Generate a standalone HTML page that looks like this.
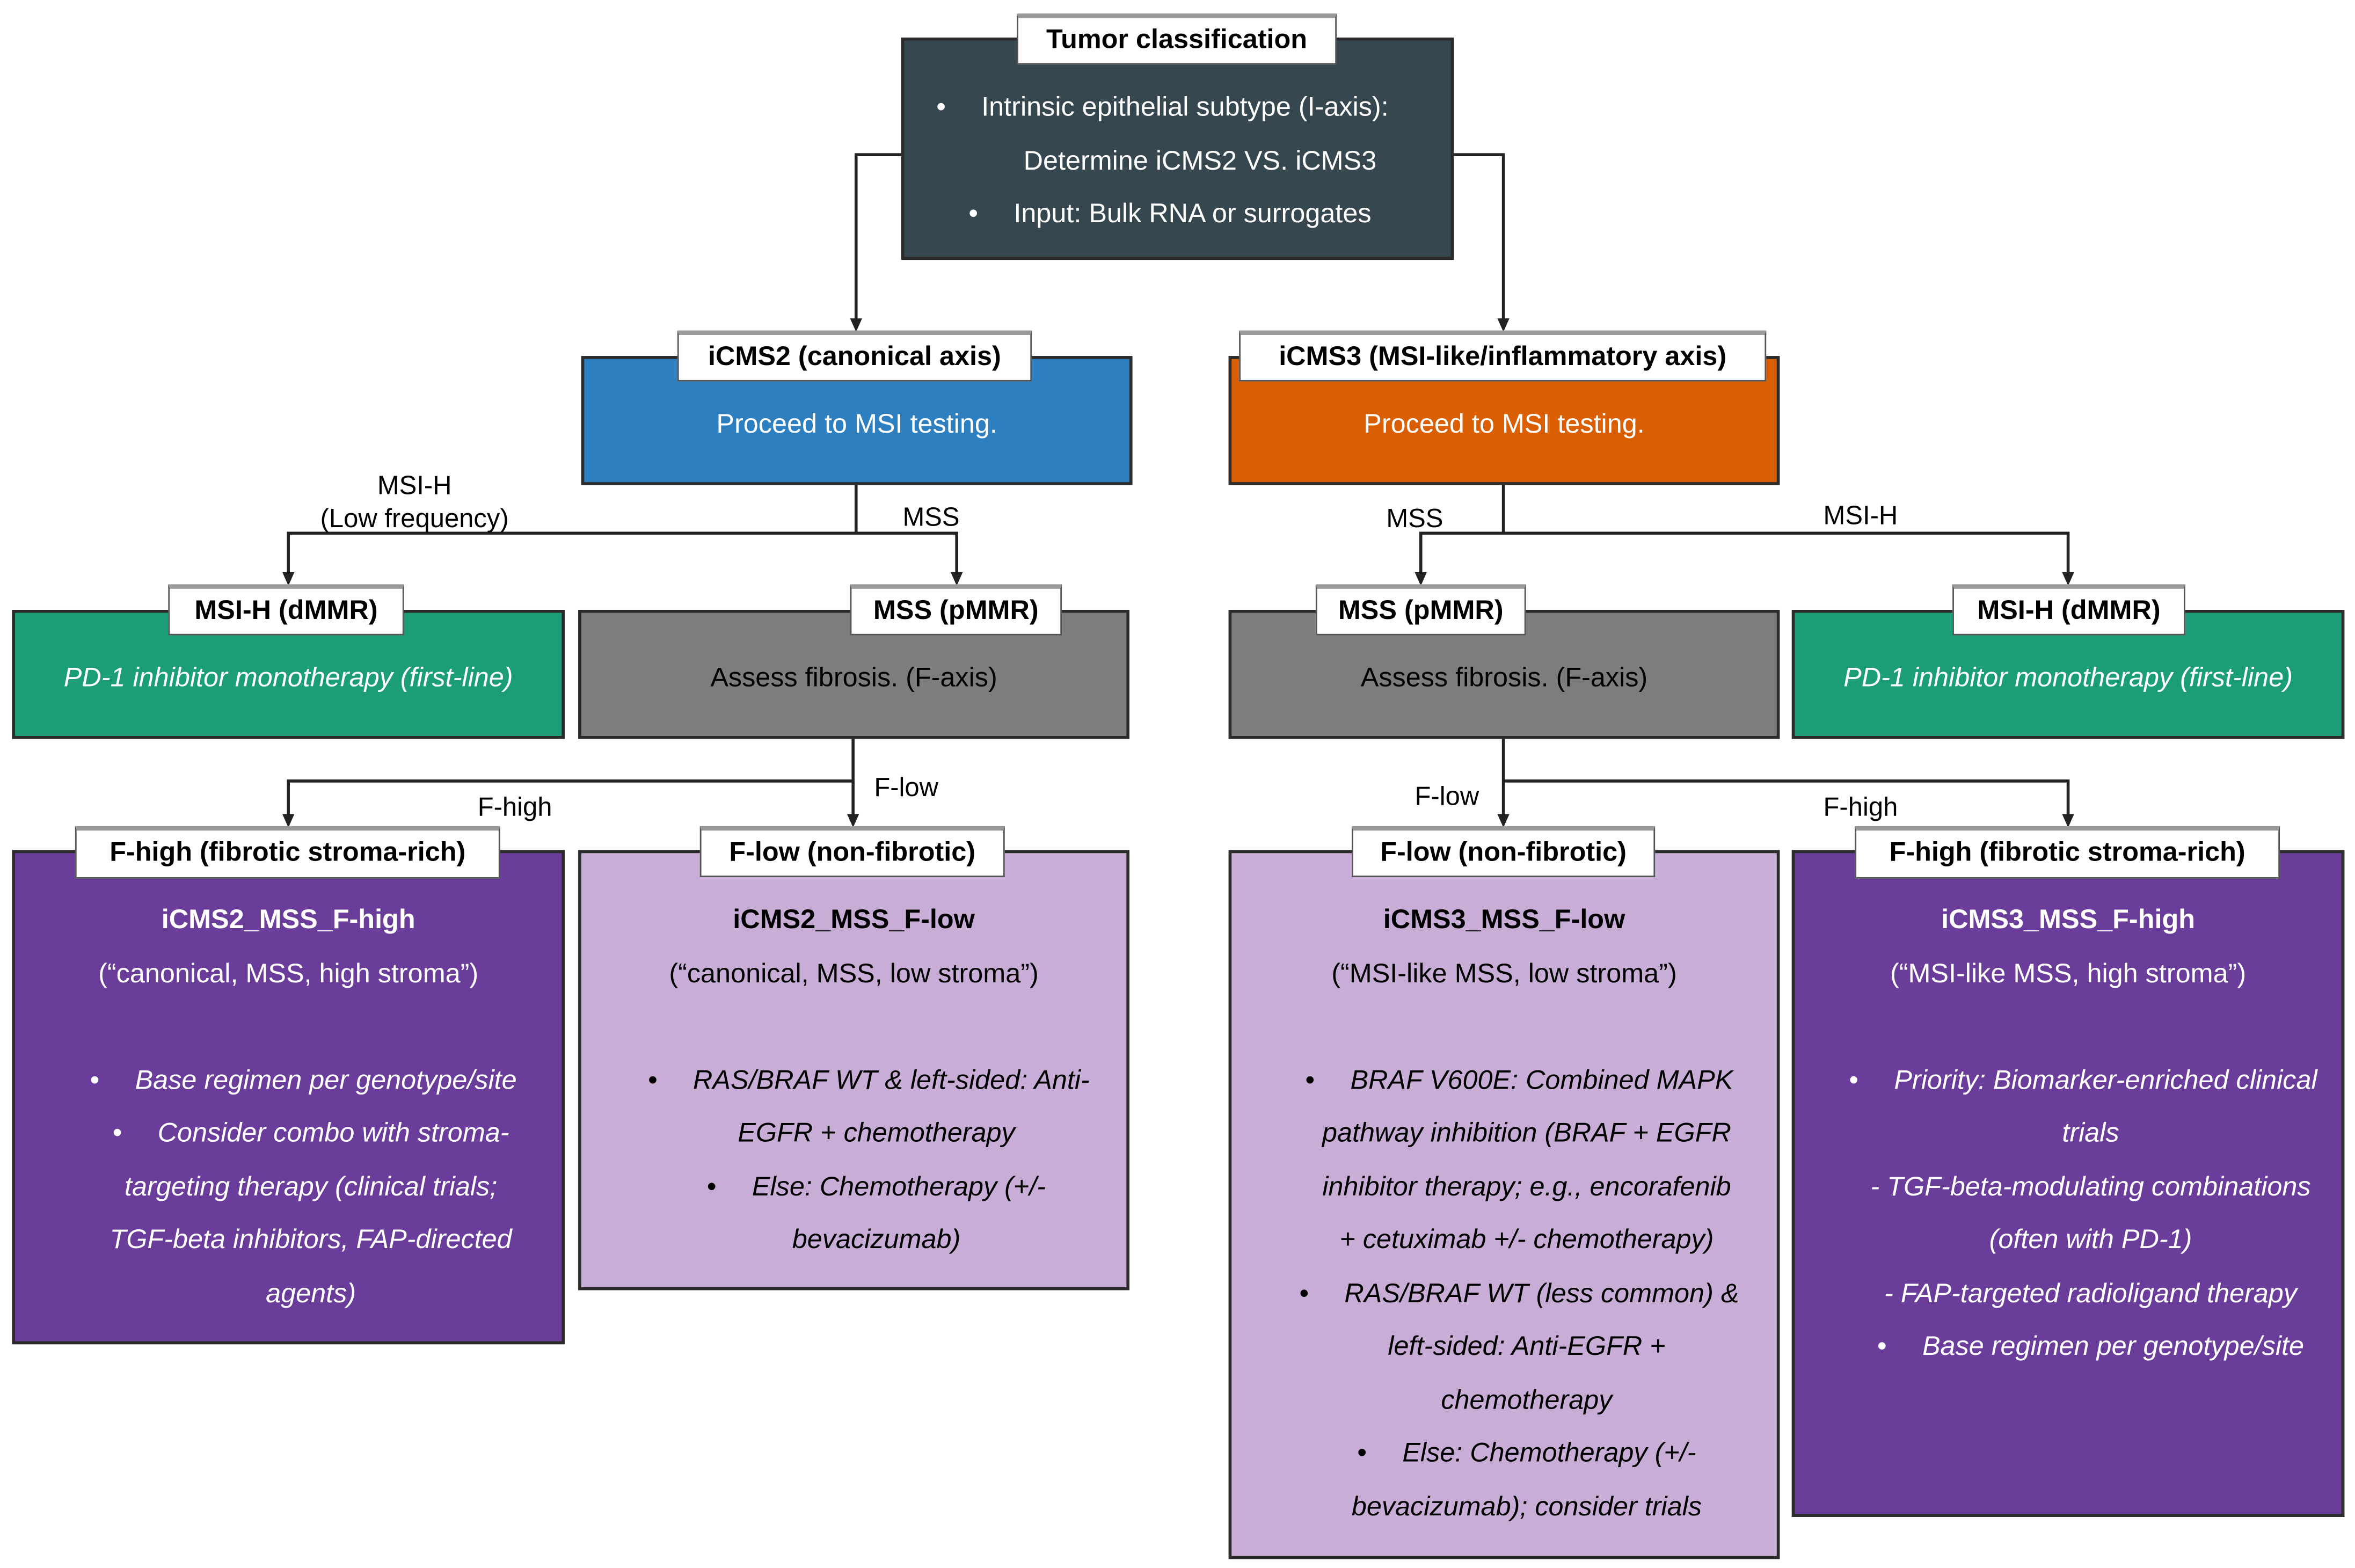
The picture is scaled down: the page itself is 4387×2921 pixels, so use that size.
<!DOCTYPE html>
<html><head><meta charset="utf-8">
<style>
html,body{margin:0;padding:0;background:#fff;}
body{width:4387px;height:2921px;overflow:hidden;position:relative;}
#s{position:absolute;left:0;top:0;width:1568px;height:1044px;transform:scale(2.7978,2.798);transform-origin:0 0;font-family:"Liberation Sans",sans-serif;}
.box{position:absolute;box-sizing:border-box;border:2px solid #2b2b2b;}
.lbl{position:absolute;box-sizing:border-box;background:#fff;border:1px solid #555;border-top:3px solid #9a9a9a;font-weight:bold;font-size:18px;text-align:center;line-height:29px;color:#000;white-space:nowrap;}
.txt{position:absolute;text-align:center;font-size:18px;line-height:35.5px;white-space:nowrap;}
.w{color:#fff}
.i{font-style:italic}
.b{display:inline-block;width:30px;text-align:left;font-style:normal}
.cl{position:absolute;font-size:17.5px;line-height:22px;color:#000;white-space:nowrap;text-align:center}
</style></head><body><div id="s">
<svg width="1568" height="1044" style="position:absolute;left:0;top:0" fill="none" stroke="#222" stroke-width="2">
<polyline points="600,103 570,103 570,214"/>
<polyline points="968,103 1001,103 1001,214"/>
<polyline points="570,322 570,355"/>
<polyline points="192,384 192,355 637,355 637,384"/>
<polyline points="1001,322 1001,355"/>
<polyline points="946,384 946,355 1377,355 1377,384"/>
<polyline points="568,491 568,544"/>
<polyline points="192,544 192,520 568,520"/>
<polyline points="1001,491 1001,544"/>
<polyline points="1001,520 1377,520 1377,544"/>
<g fill="#222" stroke="none">
<polygon points="566,212 574,212 570,221"/>
<polygon points="997,212 1005,212 1001,221"/>
<polygon points="188,381 196,381 192,390"/>
<polygon points="633,381 641,381 637,390"/>
<polygon points="942,381 950,381 946,390"/>
<polygon points="1373,381 1381,381 1377,390"/>
<polygon points="188,542 196,542 192,551"/>
<polygon points="564,542 572,542 568,551"/>
<polygon points="997,542 1005,542 1001,551"/>
<polygon points="1373,542 1381,542 1377,551"/>
</g>
</svg>

<div class="box" style="left:600px;top:25px;width:368px;height:148px;background:#37474f"></div>
<div class="lbl" style="left:677px;top:9px;width:213px;height:34px">Tumor classification</div>
<div class="txt w" style="left:600px;top:54px;width:368px">
<div style="margin-left:-20px"><span class="b">•</span>Intrinsic epithelial subtype (I-axis):</div>
<div style="padding-left:30px">Determine iCMS2 VS. iCMS3</div>
<div style="margin-left:-10px"><span class="b">•</span>Input: Bulk RNA or surrogates</div>
</div>

<div class="box" style="left:387px;top:237px;width:367px;height:86px;background:#2e7fbf"></div>
<div class="lbl" style="left:451px;top:220px;width:236px;height:34px">iCMS2 (canonical axis)</div>
<div class="txt w" style="left:387px;top:265px;width:367px">Proceed to MSI testing.</div>
<div class="box" style="left:818px;top:237px;width:367px;height:86px;background:#d95f02"></div>
<div class="lbl" style="left:825px;top:220px;width:351px;height:34px">iCMS3 (MSI-like/inflammatory axis)</div>
<div class="txt w" style="left:818px;top:265px;width:367px">Proceed to MSI testing.</div>

<div class="cl" style="left:196px;top:312px;width:160px">MSI-H<br>(Low frequency)</div>
<div class="cl" style="left:601px;top:333px">MSS</div>
<div class="cl" style="left:923px;top:334px">MSS</div>
<div class="cl" style="left:1214px;top:332px">MSI-H</div>

<div class="box" style="left:8px;top:406px;width:368px;height:86px;background:#1b9e77"></div>
<div class="lbl" style="left:112px;top:389px;width:157px;height:34px">MSI-H (dMMR)</div>
<div class="txt w i" style="left:8px;top:434px;width:368px">PD-1 inhibitor monotherapy (first-line)</div>
<div class="box" style="left:385px;top:406px;width:367px;height:86px;background:#7d7d7d"></div>
<div class="lbl" style="left:566px;top:389px;width:141px;height:34px">MSS (pMMR)</div>
<div class="txt" style="left:385px;top:434px;width:367px">Assess fibrosis. (F-axis)</div>
<div class="box" style="left:818px;top:406px;width:367px;height:86px;background:#7d7d7d"></div>
<div class="lbl" style="left:876px;top:389px;width:140px;height:34px">MSS (pMMR)</div>
<div class="txt" style="left:818px;top:434px;width:367px">Assess fibrosis. (F-axis)</div>
<div class="box" style="left:1193px;top:406px;width:368px;height:86px;background:#1b9e77"></div>
<div class="lbl" style="left:1300px;top:389px;width:155px;height:34px">MSI-H (dMMR)</div>
<div class="txt w i" style="left:1193px;top:434px;width:368px">PD-1 inhibitor monotherapy (first-line)</div>

<div class="cl" style="left:318px;top:526px">F-high</div>
<div class="cl" style="left:582px;top:513px">F-low</div>
<div class="cl" style="left:942px;top:519px">F-low</div>
<div class="cl" style="left:1214px;top:526px">F-high</div>

<div class="box" style="left:8px;top:566px;width:368px;height:329px;background:#6a3d9a"></div>
<div class="lbl" style="left:50px;top:550px;width:283px;height:35px">F-high (fibrotic stroma-rich)</div>
<div class="txt w" style="left:8px;top:595px;width:368px">
<div style="font-weight:bold">iCMS2_MSS_F-high</div>
<div>(“canonical, MSS, high stroma”)</div>
<div>&nbsp;</div>
<div class="i" style="padding-left:30px">
<div style="margin-left:-10px"><span class="b">•</span>Base regimen per genotype/site</div>
<div><span class="b">•</span>Consider combo with stroma-</div>
<div>targeting therapy (clinical trials;</div>
<div>TGF-beta inhibitors, FAP-directed</div>
<div>agents)</div></div>
</div>

<div class="box" style="left:385px;top:566px;width:367px;height:293px;background:#c8aed6"></div>
<div class="lbl" style="left:466px;top:550px;width:203px;height:34px">F-low (non-fibrotic)</div>
<div class="txt" style="left:385px;top:595px;width:367px">
<div style="font-weight:bold">iCMS2_MSS_F-low</div>
<div>(“canonical, MSS, low stroma”)</div>
<div>&nbsp;</div>
<div class="i" style="padding-left:30px">
<div style="margin-left:-10px"><span class="b">•</span>RAS/BRAF WT &amp; left-sided: Anti-</div>
<div>EGFR + chemotherapy</div>
<div><span class="b">•</span>Else: Chemotherapy (+/-</div>
<div>bevacizumab)</div></div>
</div>

<div class="box" style="left:818px;top:566px;width:367px;height:472px;background:#c8aed6"></div>
<div class="lbl" style="left:900px;top:550px;width:202px;height:34px">F-low (non-fibrotic)</div>
<div class="txt" style="left:818px;top:595px;width:367px">
<div style="font-weight:bold">iCMS3_MSS_F-low</div>
<div>(“MSI-like MSS, low stroma”)</div>
<div>&nbsp;</div>
<div class="i" style="padding-left:30px">
<div style="margin-left:-10px"><span class="b">•</span>BRAF V600E: Combined MAPK</div>
<div>pathway inhibition (BRAF + EGFR</div>
<div>inhibitor therapy; e.g., encorafenib</div>
<div>+ cetuximab +/- chemotherapy)</div>
<div style="margin-left:-10px"><span class="b">•</span>RAS/BRAF WT (less common) &amp;</div>
<div>left-sided: Anti-EGFR +</div>
<div>chemotherapy</div>
<div><span class="b">•</span>Else: Chemotherapy (+/-</div>
<div>bevacizumab); consider trials</div></div>
</div>

<div class="box" style="left:1193px;top:566px;width:368px;height:444px;background:#6a3d9a"></div>
<div class="lbl" style="left:1235px;top:550px;width:283px;height:35px">F-high (fibrotic stroma-rich)</div>
<div class="txt w" style="left:1193px;top:595px;width:368px">
<div style="font-weight:bold">iCMS3_MSS_F-high</div>
<div>(“MSI-like MSS, high stroma”)</div>
<div>&nbsp;</div>
<div class="i" style="padding-left:30px">
<div style="margin-left:-10px"><span class="b">•</span>Priority: Biomarker-enriched clinical</div>
<div>trials</div>
<div>- TGF-beta-modulating combinations</div>
<div>(often with PD-1)</div>
<div>- FAP-targeted radioligand therapy</div>
<div><span class="b">•</span>Base regimen per genotype/site</div></div>
</div>
</div></body></html>
